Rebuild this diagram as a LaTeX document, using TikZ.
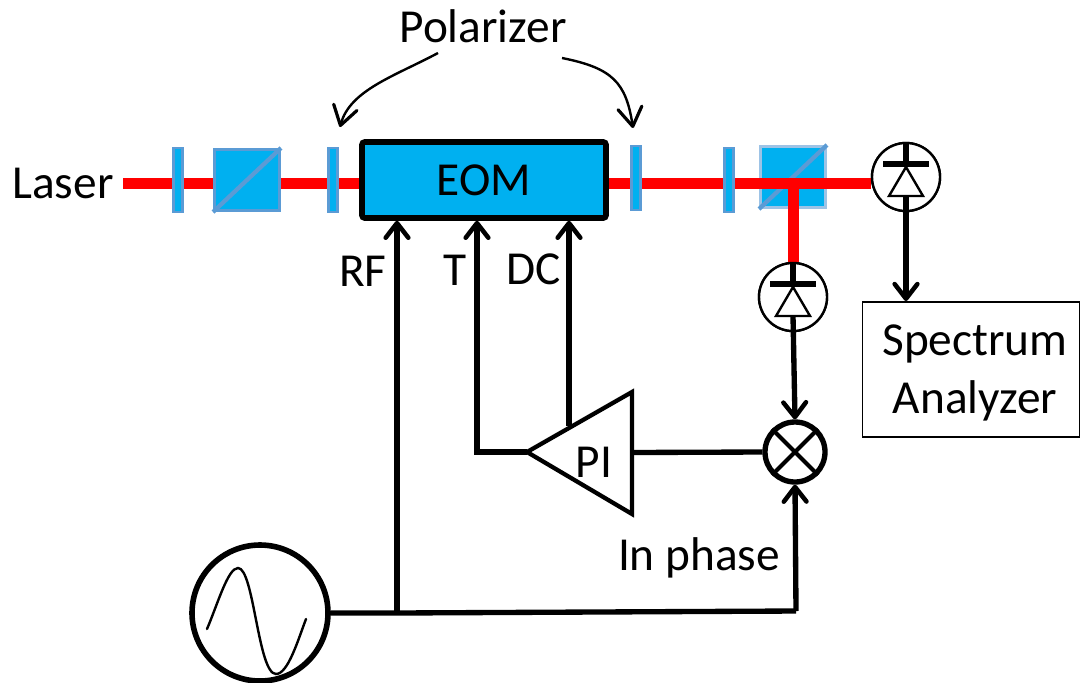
\documentclass[tikz,border=0pt]{standalone}
\usepackage{fontspec}
\setmainfont{Carlito}
\usetikzlibrary{arrows.meta,shapes.geometric}
\definecolor{optblue}{HTML}{00B0F0}
\definecolor{optedge}{HTML}{5B9BD5}
\definecolor{beamred}{HTML}{FF0000}
\tikzset{
  x=0.75pt,y=-0.75pt,
  lbl/.style={inner sep=0pt,font=\fontsize{35.5}{42}\selectfont},
  beam/.style={draw=beamred,line width=8.25pt},
  wire/.style={draw=black,line width=4pt},
  wirearrow/.style={wire,-{Straight Barb[length=11pt,width=17pt,line width=3.4pt,round]}},
  callout/.style={draw=black,line width=1.8pt,-{Straight Barb[length=14pt,width=18pt,line width=2.4pt,round]}},
  plate/.style={rectangle,draw=optedge,fill=optblue,line width=2.2pt,minimum width=7pt,minimum height=48pt,inner sep=0pt},
  cube/.style={rectangle,draw=optedge,fill=optblue,line width=2pt,minimum width=49pt,minimum height=46pt,inner sep=0pt},
  cubelight/.style={cube,draw=optedge!60},
  diag/.style={draw=optedge,line width=3.2pt},
  pdcirc/.style={circle,draw=black,fill=white,line width=1.8pt,minimum size=51pt,inner sep=0pt},
  pdbar/.style={draw=black,line width=4pt},
  pdtri/.style={draw=black,fill=white,line width=1.8pt,line join=miter},
}
\begin{document}
\begin{tikzpicture}
\useasboundingbox (0,0) rectangle (1080,682);
% labels
\node[lbl] (laser) at (63,183) {Laser};
\node[lbl] (pol) at (483,26) {Polarizer};
\node[lbl] (rf) at (363,271) {RF};
\node[lbl] (t) at (455,270) {T};
\node[lbl] (dc) at (534,269) {DC};
\node[lbl] (inphase) at (699,558) {In phase};
% beam
\coordinate (bstart) at (123,183);
\coordinate (bsplit) at (793,183);
\node[pdcirc] (pd1) at (906,177) {};
\node[pdcirc] (pd2) at (793,297) {};
\node[rectangle,draw=black,fill=optblue,line width=4.2pt,rounded corners=2pt,minimum width=183pt,minimum height=57pt,inner sep=0pt] (eom) at (484,180) {};
\draw[beam] (bstart) -- (eom.west |- bstart);
\draw[beam] (eom.east |- bstart) -- (pd1.west |- bstart);
% optics
\node[plate] (p1) at (178,180) {};
\node[cube] (c1) at (247,180) {};
\draw[diag] (c1.south west) -- (c1.north east);
\node[plate] (p2) at (333,180) {};
\node[plate] (p3) at (636,178) {};
\node[plate] (p4) at (729,180) {};
\node[cubelight] (c2) at (793,177) {};
\draw[diag] (c2.south west) -- (c2.north east);
\draw[beam] (p4.east |- bsplit) -- (pd1.west |- bsplit);
\draw[beam] (bsplit) -- (pd2.north);
\node[lbl] (eomtext) at (484,180) {EOM};
% polarizer callouts
\coordinate (calla) at (438,53);
\coordinate (callb) at (340,127);
\coordinate (callc) at (562,58);
\coordinate (calld) at (633,128);
\draw[callout] (calla) .. controls (395,76) and (350,90) .. (callb);
\draw[callout] (callc) .. controls (612,68) and (626,82) .. (calld);
% photodiodes
\foreach \n/\cx/\cy in {pd1/906/177,pd2/793/297}{
  \node[pdcirc] at (\n) {};
  \draw[pdbar] (\n.north) -- (\cx,\cy-13);
  \draw[pdbar] (\cx-23,\cy-13) -- (\cx+23,\cy-13);
  \draw[pdtri] (\cx,\cy-10) -- (\cx+17,\cy+19) -- (\cx-17,\cy+19) -- cycle;
  \coordinate (\n out) at (\cx,\cy+19);
}
% spectrum analyzer
\node[rectangle,draw=black,fill=white,line width=1.2pt,minimum width=163pt,minimum height=101pt,inner sep=0pt] (sa) at (971,369.5) {};
\node[lbl] (satop) at (975,344) {Spectrum};
\node[lbl] (sabot) at (975,401) {Analyzer};
\draw[wirearrow] (pd1out) -- (906,301);
% PI
\node[lbl] (pi) at (594,462) {PI};
\coordinate (pia) at (527,452);
\coordinate (pib) at (632,392);
\coordinate (pic) at (632,514);
\draw[draw=black,line width=3.2pt,line join=miter] (pia) -- (pib) -- (pic) -- cycle;
% mixer
\node[circle,draw=black,fill=white,line width=4pt,minimum size=45pt,inner sep=0pt] (mix) at (795,452) {};
\draw[draw=black,line width=3pt] (mix.45) -- (mix.225) (mix.135) -- (mix.315);
\draw[wirearrow] (pd2out) -- (mix.north);
\draw[wire] (632,452.5) -- (mix.west);
% feedback
\coordinate (tc) at (477,452);
\coordinate (dcb) at (569,426);
\draw[wirearrow,line join=miter] (pia) -- (tc) -- (tc |- eom.south);
\draw[wirearrow] (dcb) -- (dcb |- eom.south);
% source
\node[circle,draw=black,fill=white,line width=4.2pt,minimum size=102pt,inner sep=0pt] (src) at (260,613) {};
\draw[draw=black,line width=1.8pt,line cap=round] (207,629) .. controls (218,603) and (228,568) .. (238,568) .. controls (254,568) and (258,674) .. (276,674) .. controls (288,674) and (298,640) .. (306,619);
\coordinate (rfj) at (397,613);
\coordinate (mixc) at (796,611);
\draw[wire] (src.east) -- (rfj) -- (mixc);
\draw[wirearrow] (rfj) -- (rfj |- eom.south);
\draw[wirearrow] (mixc) -- (mix.south);
\end{tikzpicture}
\end{document}
